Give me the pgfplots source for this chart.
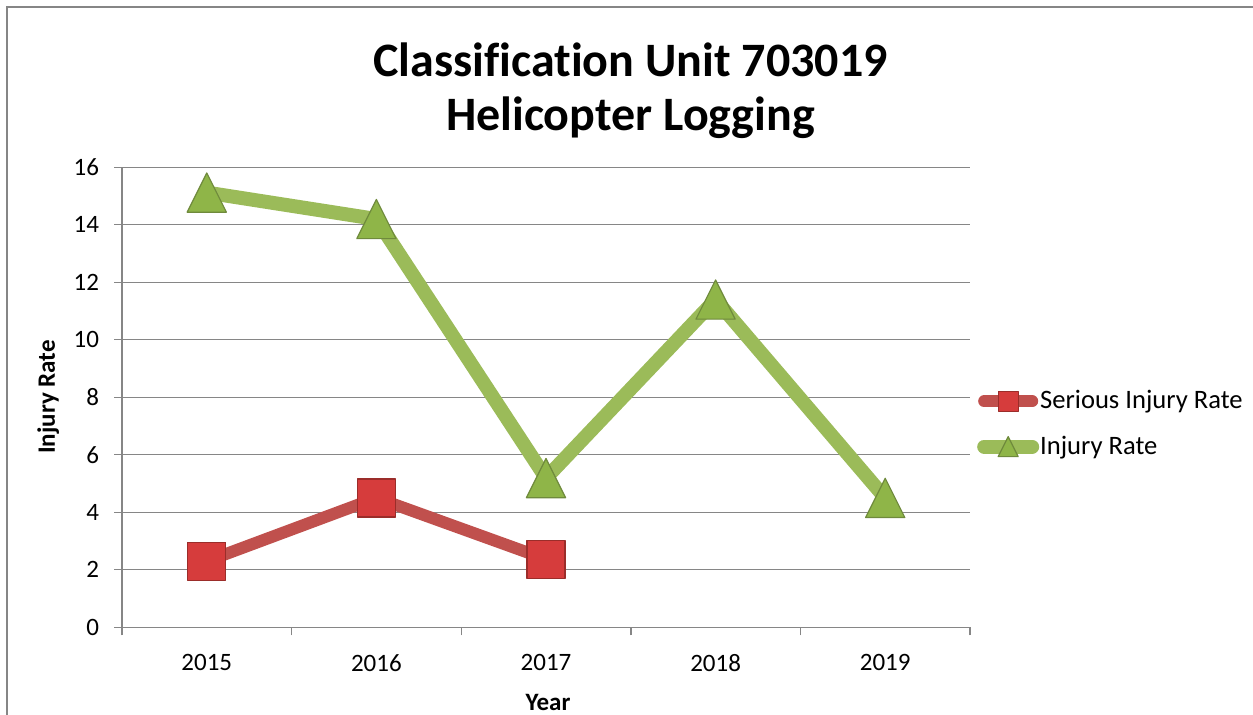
\documentclass[border=0pt]{standalone}
\usepackage{fontspec}
\setmainfont{Carlito}[Ligatures=NoCommon]
\usepackage{pgfplots}
\pgfplotsset{compat=1.18}
\definecolor{grn}{HTML}{9BBB59}
\definecolor{grnE}{HTML}{6F8A3C}
\definecolor{grnF}{HTML}{8FB548}
\definecolor{rd}{HTML}{C0504D}
\definecolor{rdE}{HTML}{9B2D2A}
\definecolor{rdF}{HTML}{D63C3C}
\definecolor{gridc}{HTML}{868686}
\pgfdeclareplotmark{etri}{%
  \pgfpathmoveto{\pgfqpoint{0pt}{\pgfplotmarksize}}%
  \pgfpathlineto{\pgfqpoint{-\pgfplotmarksize}{-\pgfplotmarksize}}%
  \pgfpathlineto{\pgfqpoint{\pgfplotmarksize}{-\pgfplotmarksize}}%
  \pgfpathclose
  \pgfusepathqfillstroke}
\begin{document}
\begin{tikzpicture}
\useasboundingbox (0,0) rectangle (626.5pt,357.5pt);
\draw[gridc, line width=1pt] (3.5pt,0) -- (3.5pt,354pt) -- (626.5pt,354pt);
\node[anchor=base, inner sep=0, font=\fontsize{24}{28}\selectfont\bfseries] at (315.25pt,319pt) {Classification Unit 703019};
\node[anchor=base, inner sep=0, font=\fontsize{24}{28}\selectfont\bfseries] at (315.25pt,292pt) {Helicopter Logging};
\node[anchor=base, inner sep=0, font=\fontsize{12.5}{15}\selectfont\bfseries] at (274pt,2pt) {Year};
\node[rotate=90, anchor=base, inner sep=0, font=\fontsize{12.5}{15}\selectfont\bfseries] at (27.5pt,159pt) {Injury Rate};
\begin{axis}[
  at={(61pt,43.85pt)}, anchor=south west, scale only axis,
  width=424pt, height=230pt,
  xmin=-0.5, xmax=4.5, ymin=0, ymax=16, ytick={0,2,...,16},
  xtick={0,...,4}, xticklabels={2015,2016,2017,2018,2019},
  major x tick style={draw=none},
  minor xtick={-0.5,0.5,...,4.5},
  axis x line*=bottom, axis y line*=left,
  ymajorgrids, grid style={gridc, line width=0.7pt},
  tick align=outside, major tick length=4pt, minor tick length=4pt,
  tick style={gridc, line width=0.7pt},
  axis line style={gridc, line width=0.7pt, -},
  ticklabel style={font=\fontsize{12.5}{15}\selectfont},
  xticklabel style={yshift=-6pt},
  yticklabel style={xshift=-4pt},
  /pgf/number format/assume math mode=true,
  clip=false,
  legend style={at={(1.008,0.442)}, anchor=west, draw=none, fill=none,
    font=\fontsize{13.3}{16}\selectfont, row sep=8pt, inner xsep=0pt,
    nodes={inner xsep=0.5pt}},
  legend cell align=left,
  legend image code/.code={
    \draw[#1, mark=none] (3pt,0pt) -- (27pt,0pt);
    \draw[#1, mark size=5pt] plot coordinates {(15pt,0pt)};
  },
]
\addplot[rd, line width=6pt, line cap=round, line join=round, mark=square*, mark size=9.5pt,
  mark options={fill=rdF, draw=rdE, line width=0.6pt}]
  coordinates {(0,2.3) (1,4.5) (2,2.37)};
\addlegendentry{Serious Injury Rate}
\addplot[grn, line width=7pt, line cap=round, line join=round, mark=etri, mark size=9.8pt,
  mark options={fill=grnF, draw=grnE, line width=0.6pt}]
  coordinates {(0,15.12) (1,14.2) (2,5.19) (3,11.4) (4,4.5)};
\addlegendentry{Injury Rate}
\end{axis}
\end{tikzpicture}
\end{document}
